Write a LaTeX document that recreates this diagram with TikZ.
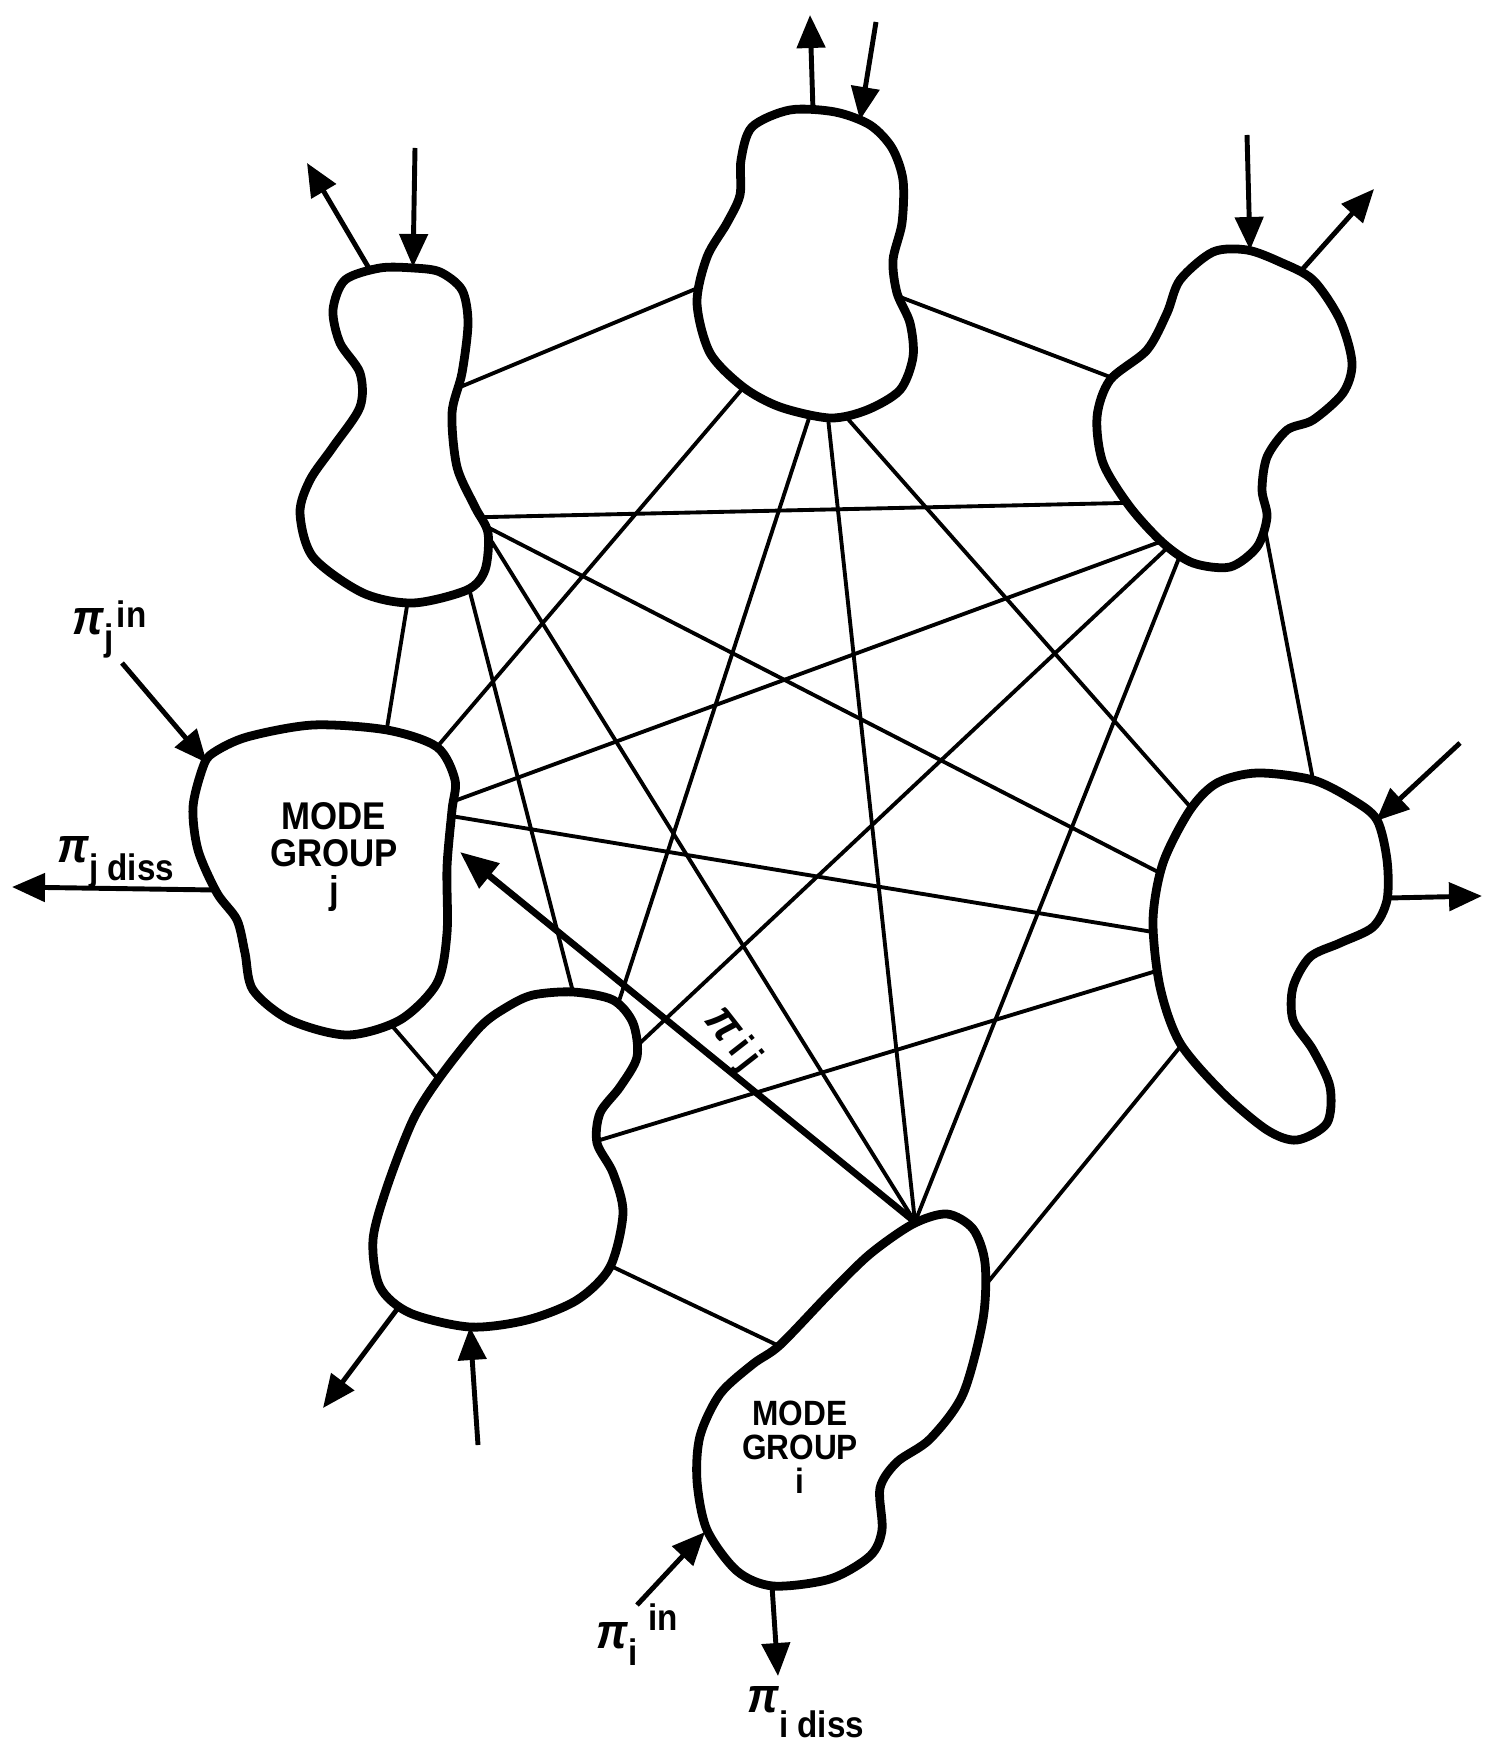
\documentclass[tikz,border=0pt]{standalone}
\usepackage{fontspec}
\newfontfamily\labfont[FakeStretch=0.9]{Liberation Sans}
\usetikzlibrary{arrows.meta}
\newcommand{\PIsym}{{\labfont\bfseries\itshape\fontsize{14}{14}\selectfont π}}
\tikzset{
  blob/.style={draw, line width=2.5pt, fill=white, line join=round},
  link/.style={line width=1.1pt, shorten >=-1mm, shorten <=-1mm},
  io/.style={line width=1.4pt, -{Triangle[length=3.3mm,width=2.8mm]}},
  flow/.style={line width=1.9pt, -{Triangle[length=3.8mm,width=3.1mm]}},
  lab/.style={font=\labfont\bfseries\fontsize{10.5}{10.5}\selectfont, inner sep=0pt},
  mg/.style={font=\labfont\bfseries\fontsize{11}{10.4}\selectfont, inner sep=0pt, align=center}
}
\begin{document}
\begin{tikzpicture}[x=0.1mm, y=-0.1mm]
\useasboundingbox (0,0) rectangle (1485,1746);
% ---- attach points -------------------------------------------------
% A
\coordinate (a-b) at (465,385); \coordinate (a-c) at (490,517);
\coordinate (a-d) at (493,530); \coordinate (a-g) at (497,550);
\coordinate (a-e) at (472,600); \coordinate (a-f) at (406,612);
% B
\coordinate (b-a) at (693,290); \coordinate (b-c) at (900,297);
\coordinate (b-f) at (743,388); \coordinate (b-e) at (810,415);
\coordinate (b-g) at (828,418); \coordinate (b-d) at (847,418);
% C
\coordinate (c-b) at (1110,377); \coordinate (c-a) at (1122,503);
\coordinate (c-f) at (1157,543); \coordinate (c-e) at (1165,550);
\coordinate (c-g) at (1177,563); \coordinate (c-d) at (1267,540);
% D
\coordinate (d-c) at (1313,780); \coordinate (d-b) at (1193,810);
\coordinate (d-a) at (1160,873); \coordinate (d-f) at (1153,932);
\coordinate (d-e) at (1153,972); \coordinate (d-g) at (1180,1047);
% E
\coordinate (e-a) at (573,992);  \coordinate (e-b) at (620,998);
\coordinate (e-c) at (640,1043); \coordinate (e-d) at (600,1140);
\coordinate (e-g) at (613,1267); \coordinate (e-f) at (437,1078);
% F
\coordinate (f-a) at (387,728); \coordinate (f-b) at (437,747);
\coordinate (f-c) at (457,800); \coordinate (f-d) at (457,817);
\coordinate (f-g) at (460,852); \coordinate (f-e) at (387,1020);
% G
\coordinate (g-top) at (915,1222);
\coordinate (g-d) at (988,1282); \coordinate (g-e) at (777,1345);
% ---- links ----------------------------------------------------------
\draw[link] (a-b) -- (b-a);
\draw[link] (a-c) -- (c-a);
\draw[link] (a-d) -- (d-a);
\draw[link] (a-e) -- (e-a);
\draw[link] (a-f) -- (f-a);
\draw[link] (a-g) -- (g-top);
\draw[link] (b-c) -- (c-b);
\draw[link] (b-d) -- (d-b);
\draw[link] (b-e) -- (e-b);
\draw[link] (b-f) -- (f-b);
\draw[link] (b-g) -- (g-top);
\draw[link] (c-d) -- (d-c);
\draw[link] (c-e) -- (e-c);
\draw[link] (c-f) -- (f-c);
\draw[link] (c-g) -- (g-top);
\draw[link] (d-e) -- (e-d);
\draw[link] (d-f) -- (f-d);
\draw[link] (d-g) -- (g-d);
\draw[link] (e-f) -- (f-e);
\draw[link] (e-g) -- (g-e);
% ---- blobs ----------------------------------------------------------
\draw[blob] plot[smooth cycle] coordinates {(345,280) (380,268) (413,268) (440,272) (462,290) (468,323) (462,373) (452,413) (457,467) (475,507) (488,533) (485,570) (467,590) (413,603) (363,593) (313,557) (300,513) (310,480) (333,447) (360,407) (360,373) (340,343) (333,310)};
\draw[blob] plot[smooth cycle] coordinates {(790,110) (835,112) (870,125) (892,148) (903,180) (902,223) (893,260) (897,293) (910,323) (913,357) (900,390) (867,410) (830,418) (780,407) (743,387) (710,353) (697,303) (707,257) (727,223) (740,195) (741,160) (752,127)};
\draw[blob] plot[smooth cycle] coordinates {(1213,252) (1247,250) (1280,262) (1313,280) (1340,320) (1352,363) (1343,393) (1313,420) (1287,430) (1267,457) (1262,490) (1267,517) (1257,547) (1230,567) (1193,563) (1163,543) (1130,507) (1103,463) (1097,417) (1110,380) (1147,350) (1167,313) (1180,280)};
\draw[blob] plot[smooth cycle] coordinates {(1257,773) (1313,780) (1353,800) (1377,820) (1387,860) (1387,900) (1373,927) (1340,943) (1310,957) (1293,987) (1293,1020) (1313,1050) (1330,1087) (1327,1123) (1297,1140) (1267,1130) (1223,1093) (1180,1043) (1160,987) (1153,920) (1163,863) (1190,810) (1217,783)};
\draw[blob] plot[smooth cycle] coordinates {(533,995) (573,992) (613,1000) (633,1023) (637,1057) (620,1087) (600,1113) (597,1143) (613,1173) (623,1213) (610,1267) (577,1300) (527,1320) (470,1327) (410,1313) (380,1287) (373,1240) (387,1187) (413,1120) (440,1077) (480,1027) (507,1007)};
\draw[blob] plot[smooth cycle] coordinates {(247,737) (313,725) (387,730) (437,747) (455,780) (452,810) (447,867) (447,933) (437,983) (400,1020) (347,1035) (290,1020) (253,990) (245,953) (237,920) (217,893) (198,850) (193,807) (203,767) (213,753)};
\draw[blob] plot[smooth cycle] coordinates {(913,1224) (947,1214) (973,1229) (985,1263) (983,1319) (963,1394) (930,1439) (897,1462) (880,1488) (882,1530) (870,1556) (830,1579) (773,1586) (737,1571) (707,1530) (697,1481) (700,1436) (720,1394) (753,1364) (780,1345) (830,1293) (870,1254)};
% ---- texts in blobs -------------------------------------------------
\node[mg] (mgj) at (334,857) {MODE\\GROUP\\j};
\node[mg, font=\labfont\bfseries\fontsize{10}{9.6}\selectfont] (mgi) at (800,1447) {MODE\\GROUP\\i};
% ---- inflow / outflow arrows ---------------------------------------
% A
\coordinate (a-out0) at (370,270); \coordinate (a-out1) at (307,163);
\coordinate (a-in0) at (415,148);  \coordinate (a-in1) at (413,267);
\draw[io] (a-out0) -- (a-out1);
\draw[io] (a-in0) -- (a-in1);
% B
\coordinate (b-out0) at (813,111); \coordinate (b-out1) at (810,15);
\coordinate (b-in0) at (876,22);   \coordinate (b-in1) at (860,120);
\draw[io] (b-out0) -- (b-out1);
\draw[io] (b-in0) -- (b-in1);
% C
\coordinate (c-in0) at (1247,135);  \coordinate (c-in1) at (1250,250);
\coordinate (c-out0) at (1300,272); \coordinate (c-out1) at (1374,189);
\draw[io] (c-in0) -- (c-in1);
\draw[io] (c-out0) -- (c-out1);
% D
\coordinate (d-in0) at (1460,743);  \coordinate (d-in1) at (1376,821);
\coordinate (d-out0) at (1388,898); \coordinate (d-out1) at (1482,896);
\draw[io] (d-in0) -- (d-in1);
\draw[io] (d-out0) -- (d-out1);
% E
\coordinate (e-in0) at (478,1445);  \coordinate (e-in1) at (470,1327);
\coordinate (e-out0) at (398,1308); \coordinate (e-out1) at (323,1408);
\draw[io] (e-in0) -- (e-in1);
\draw[io] (e-out0) -- (e-out1);
% F
\coordinate (f-in0) at (122,663);   \coordinate (f-in1) at (207,763);
\coordinate (f-out0) at (215,890);  \coordinate (f-out1) at (12,887);
\draw[io] (f-in0) -- (f-in1);
\draw[io] (f-out0) -- (f-out1);
% G
\coordinate (g-in0) at (637,1605);  \coordinate (g-in1) at (705,1532);
\coordinate (g-out0) at (772,1586); \coordinate (g-out1) at (778,1676);
\draw[io] (g-in0) -- (g-in1);
\draw[io] (g-out0) -- (g-out1);
% ---- exchange arrow pi_ij -------------------------------------------
\draw[flow] (g-top) -- (f-g);
\node[lab, rotate=-52, font=\labfont\bfseries\fontsize{11.5}{11.5}\selectfont] (pij) at (732,1040) {\PIsym\kern2pt i\kern2pt j};
% ---- labels ---------------------------------------------------------
\node[lab, anchor=base west] (pjin) at (72,635) {\PIsym\raisebox{-4.3pt}{j}\kern1pt\raisebox{2pt}{in}};
\node[lab, anchor=base west] (pjdiss) at (57,880) {\raisebox{5pt}{\PIsym}j diss};
\node[lab, anchor=base west] (piin) at (596,1648) {\PIsym\raisebox{-5pt}{i}\kern3pt\raisebox{5pt}{in}};
\node[lab, anchor=base west] (pidiss) at (747,1737) {\raisebox{7pt}{\PIsym}i diss};
\end{tikzpicture}
\end{document}
